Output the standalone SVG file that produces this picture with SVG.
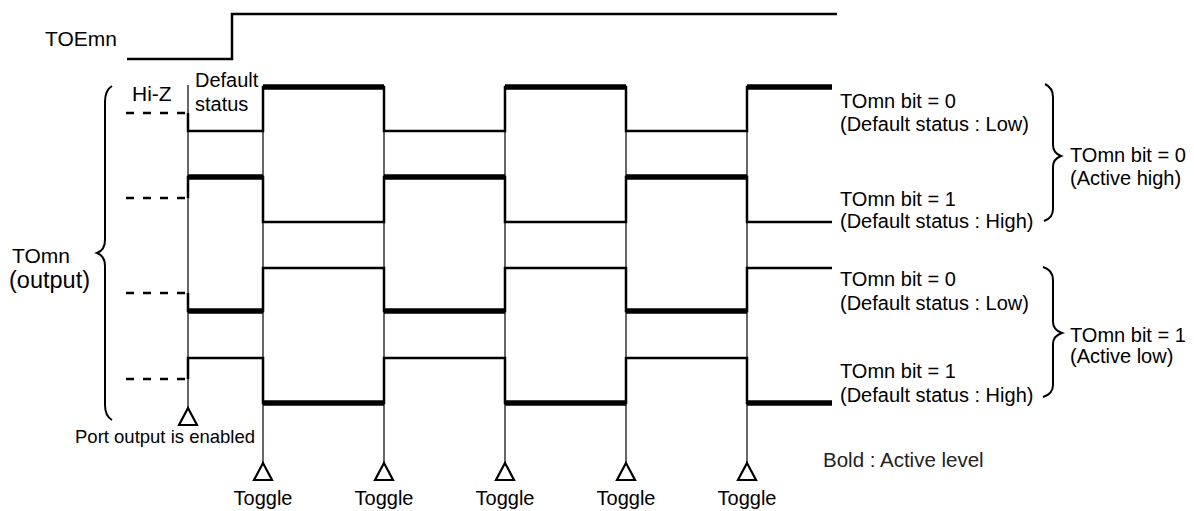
<svg xmlns="http://www.w3.org/2000/svg" width="1194" height="511" viewBox="0 0 1194 511">
<style>
text{font-family:"Liberation Sans",Arial,sans-serif;font-size:20px;fill:#000}
.w{fill:none;stroke:#000;stroke-width:2.5;stroke-linejoin:miter}
.b{stroke:#000;stroke-width:5.5;stroke-linecap:butt}
.d{stroke:#000;stroke-width:2.5;stroke-dasharray:8 9}
.g{stroke:#000;stroke-width:1.2}
.tri{fill:#fff;stroke:#000;stroke-width:2.2;stroke-linejoin:miter}
.br{fill:none;stroke:#000;stroke-width:2}
</style>
<rect width="1194" height="511" fill="#fff"/>
<g id="toemn">
<text x="45" y="46" style="font-size:21px">TOEmn</text>
<path class="w" d="M127,59 H232 V14 H837"/>
</g>
<g id="guides">
<line class="g" x1="188" y1="85" x2="188" y2="409"/>
<line class="g" x1="263" y1="86" x2="263" y2="463"/>
<line class="g" x1="384" y1="86" x2="384" y2="463"/>
<line class="g" x1="505" y1="86" x2="505" y2="463"/>
<line class="g" x1="626" y1="86" x2="626" y2="463"/>
<line class="g" x1="747" y1="86" x2="747" y2="463"/>
<polygon class="tri" points="188,408 179,425 197,425"/>
<polygon class="tri" points="263,463 254,480 272,480"/>
<polygon class="tri" points="384,463 375,480 393,480"/>
<polygon class="tri" points="505,463 496,480 514,480"/>
<polygon class="tri" points="626,463 617,480 635,480"/>
<polygon class="tri" points="747,463 738,480 756,480"/>
</g>
<g id="connectors">
<line class="d" x1="126" y1="113" x2="188" y2="113"/>
<line class="d" x1="126" y1="198" x2="188" y2="198"/>
<line class="d" x1="126" y1="293" x2="188" y2="293"/>
<line class="d" x1="126" y1="379" x2="188" y2="379"/>
<path class="w" d="M188,113 V131 H263 V87 H384 V131 H505 V87 H626 V131 H747 V87 H832"/>
<line class="b" x1="263" y1="87" x2="384" y2="87"/>
<line class="b" x1="505" y1="87" x2="626" y2="87"/>
<line class="b" x1="747" y1="87" x2="832" y2="87"/>
<path class="w" d="M188,198 V177 H263 V222 H384 V177 H505 V222 H626 V177 H747 V222 H832"/>
<line class="b" x1="188" y1="177" x2="263" y2="177"/>
<line class="b" x1="384" y1="177" x2="505" y2="177"/>
<line class="b" x1="626" y1="177" x2="747" y2="177"/>
<path class="w" d="M188,293 V311 H263 V268 H384 V311 H505 V268 H626 V311 H747 V268 H832"/>
<line class="b" x1="188" y1="311" x2="263" y2="311"/>
<line class="b" x1="384" y1="311" x2="505" y2="311"/>
<line class="b" x1="626" y1="311" x2="747" y2="311"/>
<path class="w" d="M188,379 V358 H263 V403 H384 V358 H505 V403 H626 V358 H747 V403 H832"/>
<line class="b" x1="263" y1="403" x2="384" y2="403"/>
<line class="b" x1="505" y1="403" x2="626" y2="403"/>
<line class="b" x1="747" y1="403" x2="832" y2="403"/>
</g>
<g id="left-label">
<path class="br" d="M112,86 Q105,90 105,102 V240 Q105,250 97,253 Q105,256 105,266 V405 Q105,416 112,420"/>
<text x="12" y="263" style="font-size:21px">TOmn</text>
<text x="9" y="288" style="font-size:23.5px">(output)</text>
<text x="132" y="101" style="font-size:21px">Hi-Z</text>
<text x="195" y="87">Default</text>
<text x="195" y="111">status</text>
<text x="75" y="443" style="font-size:18.5px">Port output is enabled</text>
</g>
<g id="toggles">
<text x="263" y="505" text-anchor="middle">Toggle</text>
<text x="384" y="505" text-anchor="middle">Toggle</text>
<text x="505" y="505" text-anchor="middle">Toggle</text>
<text x="626" y="505" text-anchor="middle">Toggle</text>
<text x="747" y="505" text-anchor="middle">Toggle</text>
</g>
<g id="row-labels">
<text x="840" y="108">TOmn bit = 0</text>
<text x="840" y="131">(Default status : Low)</text>
<text x="840" y="206">TOmn bit = 1</text>
<text x="840" y="228">(Default status : High)</text>
<text x="840" y="286">TOmn bit = 0</text>
<text x="840" y="310">(Default status : Low)</text>
<text x="840" y="378">TOmn bit = 1</text>
<text x="840" y="402">(Default status : High)</text>
</g>
<g id="active-high">
<path class="br" d="M1045,84 Q1053,88 1053,97 V145 Q1053,153 1061,156 Q1053,159 1053,167 V209 Q1053,218 1044,221"/>
<text x="1070" y="162">TOmn bit = 0</text>
<text x="1070" y="185">(Active high)</text>
</g>
<g id="active-low">
<path class="br" d="M1043,267 Q1053,270 1053,280 V322 Q1053,330 1062,333 Q1053,336 1053,344 V385 Q1053,394 1043,397"/>
<text x="1070" y="342">TOmn bit = 1</text>
<text x="1070" y="363">(Active low)</text>
</g>
<g id="legend">
<text x="823" y="467" style="font-size:20.5px;fill:#222">Bold : Active level</text>
</g>
</svg>
